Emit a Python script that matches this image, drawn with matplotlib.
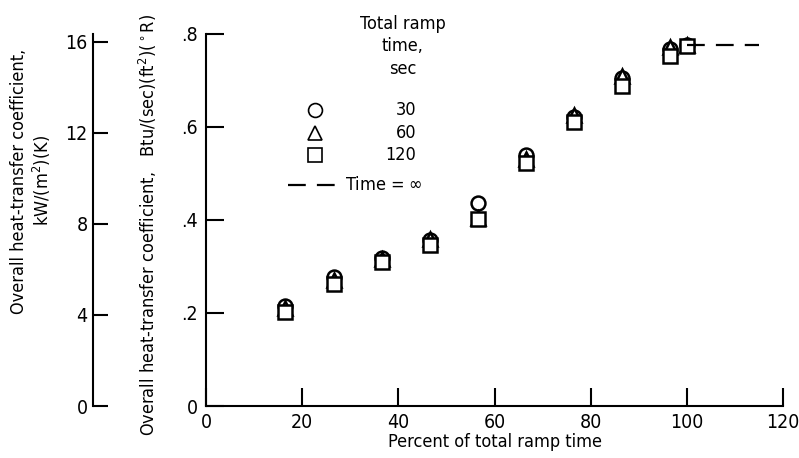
import matplotlib
matplotlib.use('Agg')
from matplotlib import pyplot as plt

# 字体: 原图是窄体字, 用 DejaVu Sans Condensed
plt.rcParams['font.family'] = ['DejaVu Sans']
plt.rcParams['font.stretch'] = 'condensed'

# 数据
percent = [16.5, 26.5, 36.5, 46.5, 56.5, 66.5, 76.5, 86.5, 96.5, 100]
h_30 = [0.215, 0.278, 0.318, 0.356, 0.437, 0.540, 0.622, 0.706, 0.768, 0.776]
h_60 = [0.210, 0.270, 0.315, 0.360, 0.404, 0.530, 0.626, 0.710, 0.771, 0.777]
h_120 = [0.202, 0.262, 0.310, 0.346, 0.401, 0.522, 0.611, 0.689, 0.753, 0.775]
inf_x = [100, 115]
inf_h = [0.776, 0.776]
ramp_labels = ['30', '60', '120']
BTU_TO_KW = 20.44

fig = plt.figure(figsize=(7.99, 4.58), dpi=100)
ax = fig.add_axes([0.258, 0.1135, 0.722, 0.8125])

mk = dict(linestyle='none', mfc='white', mec='black', mew=1.8, ms=10)
ax.plot(percent, h_30, marker='o', **mk)
ax.plot(percent, h_60, marker='^', **mk)
ax.plot(percent, h_120, marker='s', **mk)
ax.plot(inf_x, inf_h, color='black', lw=1.6, dashes=(8, 5))

ax.set_xlim(0, 120)
ax.set_ylim(0, 0.8)
ax.set_xticks(range(0, 121, 20))
ax.set_yticks([0, 0.2, 0.4, 0.6, 0.8])
ax.set_yticklabels(['0', '.2', '.4', '.6', '.8'])
for s in ['top', 'right']:
    ax.spines[s].set_visible(False)
for s in ['left', 'bottom']:
    ax.spines[s].set_linewidth(1.5)
ax.tick_params(axis='x', direction='in', length=13, width=1.5, labelsize=14, pad=5)
ax.tick_params(axis='y', direction='in', length=13, width=1.5, labelsize=14, pad=6)
ax.set_xlabel('Percent of total ramp time', fontsize=13, labelpad=1)

# SI 单位的副轴
sec = ax.secondary_yaxis(-0.196, functions=(lambda y: y * BTU_TO_KW, lambda y: y / BTU_TO_KW))
sec.set_yticks([0, 4, 8, 12, 16])
sec.spines['left'].set_linewidth(1.5)
sec.tick_params(direction='in', length=11, width=1.5, labelsize=14, pad=4)

# 两个纵轴标题
fig.text(0.0394, 0.605, 'Overall heat-transfer coefficient,\nkW/(m$^2$)(K)', rotation=90,
         ha='center', va='center', multialignment='center', fontsize=13, linespacing=1.15)
fig.text(0.185, 0.509, 'Overall heat-transfer coefficient,   Btu/(sec)(ft$^2$)($^\\circ$R)',
         rotation=90, ha='center', va='center', fontsize=13)

# 图例 (手画)
ax.text(0.341, 1.05, 'Total ramp\ntime,\nsec', transform=ax.transAxes, ha='center',
        va='top', fontsize=13, linespacing=1.3)
for i, (m, lab) in enumerate(zip(['o', '^', 's'], ramp_labels)):
    yy = 0.796 - i * 0.061
    ax.plot([0.189], [yy], marker=m, transform=ax.transAxes, clip_on=False,
            linestyle='none', mfc='white', mec='black', mew=1.2, ms=10)
    ax.text(0.364, yy, lab, transform=ax.transAxes, ha='right', va='center', fontsize=13)
ax.plot([0.142, 0.229], [0.594, 0.594], transform=ax.transAxes, color='black', lw=1.6,
        dashes=(8, 5))
ax.text(0.240, 0.594, 'Time = $\\infty$', transform=ax.transAxes, ha='left', va='center',
        fontsize=13)

plt.savefig('out.png', dpi=100)
